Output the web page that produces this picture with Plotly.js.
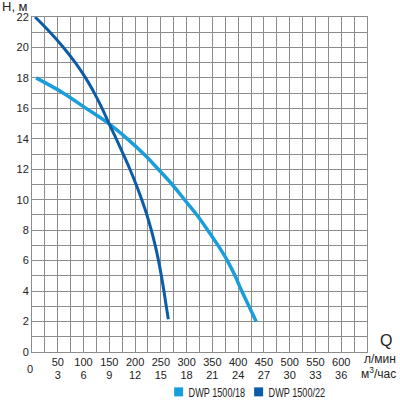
<!DOCTYPE html>
<html>
<head>
<meta charset="utf-8">
<script src="https://cdn.plot.ly/plotly-3.0.1.min.js"></script>
<style>
html,body{margin:0;padding:0;background:#fff;}
#chart{width:400px;height:400px;}
#chart .legend .scrollbox{clip-path:none !important;}
#chart .legend .legendtext{transform:translateX(-10px) scaleX(0.76);transform-box:fill-box;transform-origin:left center;}
</style>
</head>
<body>
<div id="chart"></div>
<script>
// Series: DWP 1500/18 (Q in l/min, H in m)
var q18 = [8, 61, 105, 149, 185, 217, 245, 272, 296, 320, 341, 361, 379, 394, 407, 421, 435];
var h18 = [18, 17, 16, 15, 14, 13, 12, 11, 10, 9, 8, 7, 6, 5, 4, 3, 2];
// Series: DWP 1500/22
var q22 = [6, 35, 61, 84, 104, 121, 136, 149.5, 163.5, 177, 190, 202, 213, 223, 231.5, 239, 245.5, 251, 256, 260.5, 264.5];
var h22 = [22, 21, 20, 19, 18, 17, 16, 15, 14, 13, 12, 11, 10, 9, 8, 7, 6, 5, 4, 3, 2.15];
var seriesNames = ["DWP 1500/18", "DWP 1500/22"];
// Tick labels
var qLpm = [50, 100, 150, 200, 250, 300, 350, 400, 450, 500, 550, 600];
var qM3h = [3, 6, 9, 12, 15, 18, 21, 24, 27, 30, 33, 36];
var hTicks = [0, 2, 4, 6, 8, 10, 12, 14, 16, 18, 20, 22];

var c18 = "#1a9edb", c22 = "#0b5ca8";
var grid = "#8c8c8c";

var traces = [
  {x: q18, y: h18, mode: "lines", line: {color: c18, width: 3.5, shape: "spline", smoothing: 1}, showlegend: false, hoverinfo: "skip"},
  {x: q22, y: h22, mode: "lines", line: {color: c22, width: 3, shape: "spline", smoothing: 1}, showlegend: false, hoverinfo: "skip"},
  {x: [null], y: [null], mode: "markers", name: seriesNames[0], marker: {symbol: "square", size: 9, color: c18}},
  {x: [null], y: [null], xaxis: "x2", mode: "markers", name: seriesNames[1], marker: {symbol: "square", size: 9, color: c22}}
];

var tf = {family: "Liberation Sans, Arial, sans-serif", size: 11, color: "#222"};
var layout = {
  width: 400, height: 400,
  margin: {l: 32, r: 33, t: 17, b: 48, autoexpand: false},
  paper_bgcolor: "#fff", plot_bgcolor: "#fff",
  font: tf,
  xaxis: {
    range: [0, 650], tickmode: "array", tickvals: qLpm, tickangle: 0,
    ticks: "", showgrid: true, gridcolor: grid, gridwidth: 1, automargin: false,
    minor: {tickmode: "linear", tick0: 0, dtick: 25, showgrid: true, gridcolor: grid, gridwidth: 1},
    showline: true, linecolor: grid, linewidth: 1, mirror: true, zeroline: false,
    tickfont: tf, fixedrange: true, ticklabelstandoff: 0
  },
  xaxis2: {
    overlaying: "x", side: "bottom", anchor: "y",
    range: [0, 39], tickmode: "array", tickvals: qM3h, tickangle: 0,
    ticks: "", showgrid: false, zeroline: false, showline: false, automargin: false,
    tickfont: tf, fixedrange: true, ticklabelstandoff: 15
  },
  yaxis: {
    range: [0, 22], tickmode: "array", tickvals: hTicks, automargin: false,
    ticks: "", showgrid: true, gridcolor: grid, gridwidth: 1,
    minor: {tickmode: "linear", tick0: 0, dtick: 1, showgrid: true, gridcolor: grid, gridwidth: 1},
    showline: true, linecolor: grid, linewidth: 1, mirror: true, zeroline: false,
    tickfont: tf, fixedrange: true
  },
  showlegend: true,
  legend: {orientation: "h", x: 0.378, xanchor: "left", y: -0.119, yanchor: "middle",
    font: {family: "Liberation Sans, Arial, sans-serif", size: 12, color: "#222"},
    itemwidth: 30, entrywidth: 35, entrywidthmode: "pixels", bgcolor: "rgba(0,0,0,0)"},
  annotations: [
    {xref: "paper", yref: "paper", x: -0.0955, y: 1.03, xanchor: "left", yanchor: "middle", text: "H, м", showarrow: false, font: {family: "Liberation Sans, Arial, sans-serif", size: 13, color: "#222"}},
    {xref: "paper", yref: "paper", x: 1.057, y: 0.033, xanchor: "center", yanchor: "middle", text: "Q", showarrow: false, font: {family: "Liberation Sans, Arial, sans-serif", size: 16, color: "#222"}},
    {xref: "paper", yref: "paper", x: 1.0925, y: -0.02, xanchor: "right", yanchor: "middle", text: "л/мин", showarrow: false, font: {family: "Liberation Sans, Arial, sans-serif", size: 12, color: "#222"}},
    {xref: "paper", yref: "paper", x: 1.0925, y: -0.062, xanchor: "right", yanchor: "middle", text: "м<sup>3</sup>/час", showarrow: false, font: {family: "Liberation Sans, Arial, sans-serif", size: 12, color: "#222"}},
    {xref: "paper", yref: "paper", x: -0.006, y: -0.05, xanchor: "center", yanchor: "middle", text: "0", showarrow: false, font: tf}
  ]
};
Plotly.newPlot("chart", traces, layout, {staticPlot: true, displayModeBar: false});
</script>
</body>
</html>
